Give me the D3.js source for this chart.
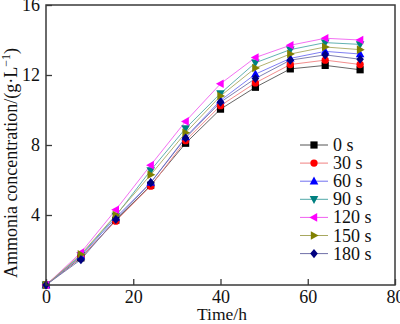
<!DOCTYPE html>
<html>
<head>
<meta charset="utf-8">
<script src="https://cdn.jsdelivr.net/npm/d3@7"></script>
<style>
  body { margin: 0; background: #fff; }
  svg { display: block; }
  svg text { font-family: "Liberation Serif", "Times New Roman", serif; font-weight: normal; }
</style>
</head>
<body>
<svg id="chart"></svg>
<script>
// sampling times (h)
var times = [0, 8, 16, 24, 32, 40, 48, 56, 64, 72];

// treatment durations shown in the legend
var series = ['0 s', '30 s', '60 s', '90 s', '120 s', '150 s', '180 s'];

// ammonia concentration (g/L) for each treatment
var v0   = [0, 1.55, 3.70, 5.70, 8.10, 10.05, 11.30, 12.35, 12.55, 12.30];
var v30  = [0, 1.60, 3.65, 5.65, 8.25, 10.25, 11.55, 12.60, 12.85, 12.60];
var v60  = [0, 1.65, 3.85, 5.85, 8.45, 10.55, 12.05, 12.95, 13.35, 13.20];
var v90  = [0, 1.70, 3.95, 6.55, 8.95, 10.95, 12.70, 13.45, 13.85, 13.75];
var v120 = [0, 1.85, 4.30, 6.85, 9.35, 11.50, 13.00, 13.70, 14.10, 14.00];
var v150 = [0, 1.75, 4.00, 6.30, 8.70, 10.80, 12.40, 13.20, 13.60, 13.45];
var v180 = [0, 1.45, 3.75, 5.85, 8.40, 10.45, 11.80, 12.85, 13.15, 12.90];
var values = [v0, v30, v60, v90, v120, v150, v180];

var xTicks = [0, 20, 40, 60, 80];
var yTicks = [4, 8, 12, 16];

var markColors = ['#000000', '#ff0000', '#0000ff', '#008080', '#ff00ff', '#808000', '#000080'];
var lineColors = ['#555555', '#f08080', '#7070f0', '#50a8a8', '#f060f0', '#a8a860', '#7070a8'];
var shapes = ['square', 'circle', 'up', 'down', 'left', 'right', 'diamond'];

var width = 400, height = 324;
var margin = { left: 46, right: 5, top: 5, bottom: 39 };

var svg = d3.select('#chart')
    .attr('width', width)
    .attr('height', height);

var x = d3.scaleLinear().domain([0, 80]).range([margin.left, width - margin.right]);
var y = d3.scaleLinear().domain([0, 16]).range([height - margin.bottom, margin.top]);

// marker path for each shape, centred on 0,0
function markerPath(shape) {
    var s = 3.6;
    switch (shape) {
        case 'square': return 'M' + -s + ',' + -s + 'h' + 2 * s + 'v' + 2 * s + 'h' + -2 * s + 'Z';
        case 'circle': return d3.symbol(d3.symbolCircle, 42)();
        case 'up': return 'M0,-4.6L4.3,3.2L-4.3,3.2Z';
        case 'down': return 'M0,4.6L4.3,-3.2L-4.3,-3.2Z';
        case 'left': return 'M-4.6,0L3.2,4.3L3.2,-4.3Z';
        case 'right': return 'M4.6,0L-3.2,4.3L-3.2,-4.3Z';
        case 'diamond': return 'M0,-4.6L3.8,0L0,4.6L-3.8,0Z';
    }
}

var line = d3.line()
    .x(function (d, i) { return x(times[i]); })
    .y(function (d) { return y(d); });

// lines first, then markers on top
values.forEach(function (vals, k) {
    svg.append('path')
        .attr('d', line(vals))
        .attr('fill', 'none')
        .attr('stroke', lineColors[k])
        .attr('stroke-width', 0.9);
});

values.forEach(function (vals, k) {
    svg.append('g').selectAll('path')
        .data(vals)
        .enter()
        .append('path')
        .attr('d', markerPath(shapes[k]))
        .attr('transform', function (d, i) { return 'translate(' + x(times[i]) + ',' + y(d) + ')'; })
        .attr('fill', markColors[k]);
});

// frame
svg.append('rect')
    .attr('x', x(0))
    .attr('y', y(16))
    .attr('width', x(80) - x(0))
    .attr('height', y(0) - y(16))
    .attr('fill', 'none')
    .attr('stroke', '#3a3a3a')
    .attr('stroke-width', 1.5);

// axes with inward ticks
var xAxis = svg.append('g')
    .attr('transform', 'translate(0,' + y(0) + ')')
    .call(d3.axisBottom(x).tickValues(xTicks).tickSizeInner(-6).tickSizeOuter(0).tickPadding(5));

var yAxis = svg.append('g')
    .attr('transform', 'translate(' + x(0) + ',0)')
    .call(d3.axisLeft(y).tickValues(yTicks).tickSizeInner(-6).tickSizeOuter(0).tickPadding(6));

[xAxis, yAxis].forEach(function (g) {
    g.select('.domain').remove();
    g.selectAll('line').attr('stroke', '#3a3a3a').attr('stroke-width', 1.3);
    g.selectAll('text')
        .attr('fill', '#111')
        .attr('font-family', null)
        .attr('font-size', null)
        .style('font-size', '18px');
});

// axis titles
svg.append('text')
    .attr('x', 222)
    .attr('y', 320)
    .attr('text-anchor', 'middle')
    .attr('fill', '#111')
    .style('font-size', '17.5px')
    .text('Time/h');

var yTitle = svg.append('text')
    .attr('transform', 'translate(17,163) rotate(-90)')
    .attr('text-anchor', 'middle')
    .attr('fill', '#111')
    .style('font-size', '18px');
yTitle.append('tspan').text('Ammonia concentration/(g·L');
yTitle.append('tspan').attr('dy', -7).style('font-size', '12px').text('−1');
yTitle.append('tspan').attr('dy', 7).text(')');

// legend
var legend = svg.append('g').attr('transform', 'translate(300,145)');
series.forEach(function (name, k) {
    var row = legend.append('g').attr('transform', 'translate(0,' + k * 18.1 + ')');
    row.append('line')
        .attr('x1', 0).attr('x2', 28)
        .attr('stroke', lineColors[k])
        .attr('stroke-width', 1);
    row.append('path')
        .attr('d', markerPath(shapes[k]))
        .attr('transform', 'translate(14,0)')
        .attr('fill', markColors[k]);
    row.append('text')
        .attr('x', 33)
        .attr('y', 6)
        .attr('fill', '#111')
        .style('font-size', '18px')
        .text(name);
});
</script>
</body>
</html>
